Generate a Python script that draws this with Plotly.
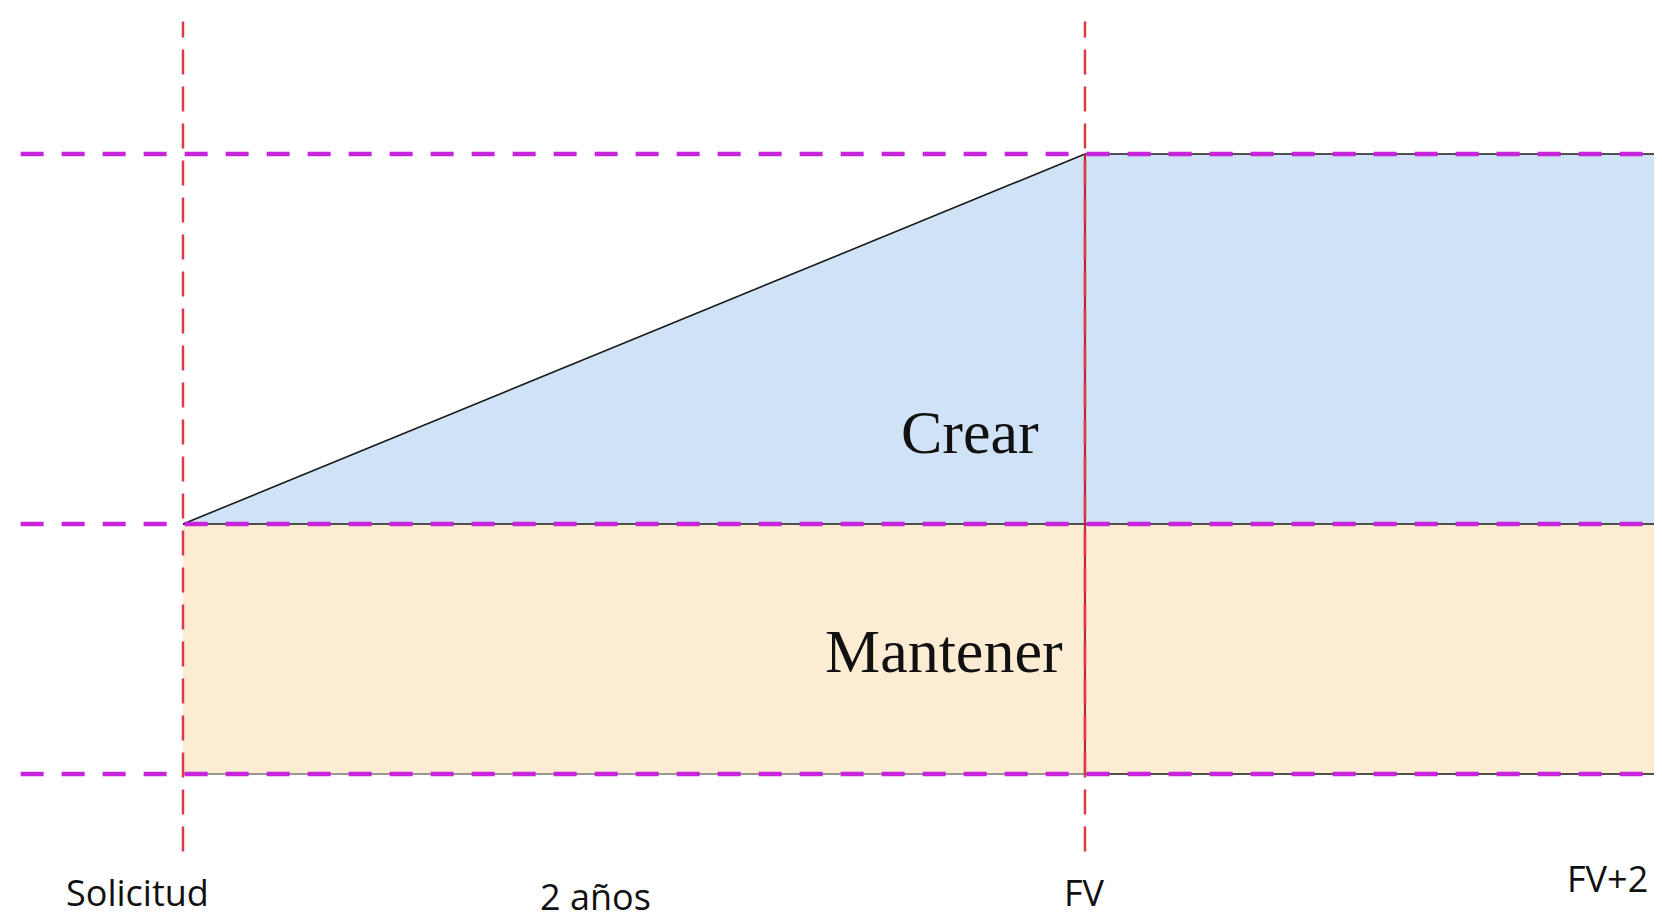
import plotly.graph_objects as go

# schematic positions (not to scale)
stage_labels = ["Solicitud", "FV", "FV+2"]
stage_x = [0.0, 1.0, 1.64]
period_label = "2 años"

# level heights: base, top of "Mantener", top of "Crear"
levels = [0.0, 1.0, 2.48]
area_labels = ["Mantener", "Crear"]

BLUE = "#cfe2f6"
PEACH = "#fcecd3"
PURPLE = "#c824dc"
RED = "#dc3a44"

x0, x_fv, x_end = stage_x
y0, y_mid, y_top = levels

fig = go.Figure()

# Mantener band
fig.add_trace(go.Scatter(
    x=[x0, x_end, x_end, x0, x0], y=[y0, y0, y_mid, y_mid, y0],
    mode="lines", fill="toself", fillcolor=PEACH,
    line=dict(width=0), hoverinfo="skip", showlegend=False))

# Crear area (ramp up to FV, then flat)
fig.add_trace(go.Scatter(
    x=[x0, x_fv, x_end, x_end, x0], y=[y_mid, y_top, y_top, y_mid, y_mid],
    mode="lines", fill="toself", fillcolor=BLUE,
    line=dict(width=0), hoverinfo="skip", showlegend=False))

# black outlines
fig.add_trace(go.Scatter(
    x=[x0, x_fv, None, x0, x_end, None, x_fv, x_end, None, x_fv, x_end],
    y=[y_mid, y_top, None, y_mid, y_mid, None, y_top, y_top, None, y0, y0],
    mode="lines", line=dict(color="#1a1a1a", width=1.6),
    hoverinfo="skip", showlegend=False))
fig.add_trace(go.Scatter(
    x=[x0, x_fv], y=[y0, y0],
    mode="lines", line=dict(color="#777777", width=1.4),
    hoverinfo="skip", showlegend=False))
fig.add_trace(go.Scatter(
    x=[x_fv, x_fv], y=[y0, y_top],
    mode="lines", line=dict(color="#c0242e", width=2.2),
    hoverinfo="skip", showlegend=False))

# purple dashed level guides
x_left = -0.18
for lv in levels:
    fig.add_trace(go.Scatter(
        x=[x_left, x_end], y=[lv, lv], mode="lines",
        line=dict(color=PURPLE, width=4.5, dash="23px,18px"),
        hoverinfo="skip", showlegend=False))

# red dashed stage guides
for sx in stage_x:
    fig.add_trace(go.Scatter(
        x=[sx, sx], y=[-0.31, 3.01], mode="lines",
        line=dict(color=RED, width=2.5, dash="25px,12px"),
        hoverinfo="skip", showlegend=False))

serif = dict(family="Liberation Serif, Times New Roman, serif", size=62, color="#111111")
sans = dict(family="Open Sans, Noto Sans, sans-serif", size=36, color="#111111")

annotations = [
    dict(x=x_fv, y=y_mid, text=area_labels[1], xanchor="right", yanchor="middle",
         xshift=-44, yshift=92, font=serif),
    dict(x=x_fv, y=y0, text=area_labels[0], xanchor="right", yanchor="middle",
         xshift=-20, yshift=123, font=serif),
    dict(x=x0, y=y0, text=stage_labels[0], xanchor="center", yanchor="middle",
         xshift=-45, yshift=-118, font=sans, borderpad=0),
    dict(x=(x0 + x_fv) / 2, y=y0, text=period_label, xanchor="center", yanchor="middle",
         xshift=-38, yshift=-122, font=sans, borderpad=0),
    dict(x=x_fv, y=y0, text=stage_labels[1], xanchor="center", yanchor="middle",
         xshift=0, yshift=-118, font=sans, borderpad=0),
    dict(x=x_end, y=y0, text=stage_labels[2], xanchor="center", yanchor="middle",
         xshift=-55, yshift=-104, font=sans, borderpad=0),
]
for a in annotations:
    a.update(xref="x", yref="y", showarrow=False)

fig.update_layout(
    width=1662, height=919,
    margin=dict(l=0, r=0, t=0, b=0),
    paper_bgcolor="white", plot_bgcolor="white",
    xaxis=dict(range=[-0.194, 1.6486], visible=False, fixedrange=True),
    yaxis=dict(range=[-0.612, 3.064], visible=False, fixedrange=True),
    annotations=annotations,
    showlegend=False,
)

fig.write_html("out.html")
